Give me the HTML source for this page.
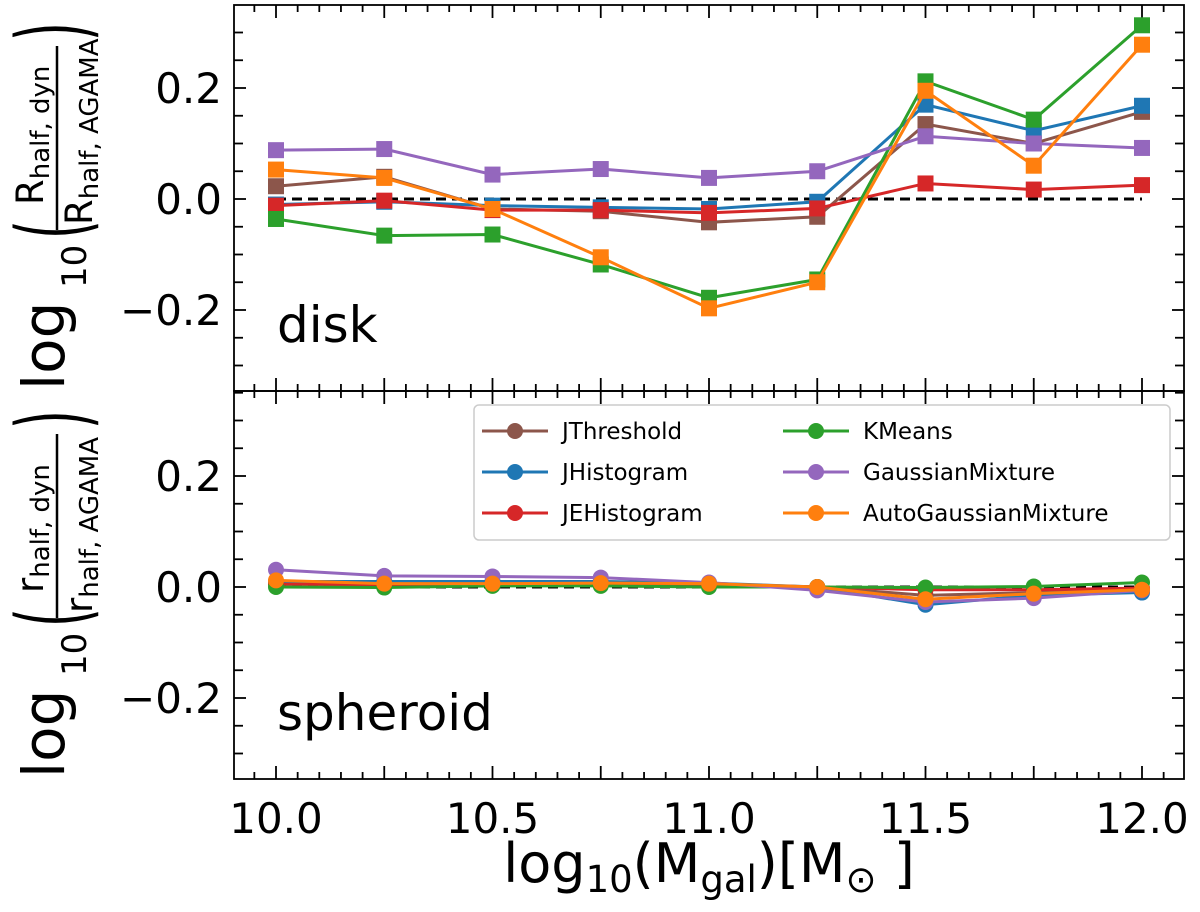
<!DOCTYPE html>
<html><head><meta charset="utf-8"><style>
html,body{margin:0;padding:0;background:#fff}
svg{display:block;font-family:"DejaVu Sans","Liberation Sans",sans-serif}
</style></head><body>
<svg id="chart" width="1200" height="912" xmlns="http://www.w3.org/2000/svg">
</svg>
<script>
const masses = [10.0,10.25,10.5,10.75,11.0,11.25,11.5,11.75,12.0];
const seriesNames = ["JThreshold","JHistogram","JEHistogram","KMeans","GaussianMixture","AutoGaussianMixture"];
const seriesColors = ["#8c564b","#1f77b4","#d62728","#2ca02c","#9467bd","#ff7f0e"];
const diskJThreshold = [0.023,0.04,-0.018,-0.022,-0.042,-0.032,0.135,0.1,0.157];
const diskJHistogram = [-0.01,-0.005,-0.012,-0.015,-0.018,-0.005,0.17,0.123,0.168];
const diskJEHistogram = [-0.012,-0.003,-0.02,-0.02,-0.025,-0.017,0.028,0.017,0.025];
const diskKMeans = [-0.036,-0.066,-0.064,-0.118,-0.178,-0.145,0.212,0.143,0.313];
const diskGaussianMixture = [0.088,0.09,0.044,0.054,0.038,0.05,0.113,0.1,0.092];
const diskAutoGaussianMixture = [0.053,0.038,-0.018,-0.105,-0.197,-0.15,0.195,0.06,0.278];
const sphJThreshold = [0.008,0.005,0.005,0.005,0.005,0.0,-0.015,-0.01,-0.005];
const sphJHistogram = [0.01,0.01,0.01,0.01,0.007,0.0,-0.032,-0.015,-0.01];
const sphJEHistogram = [0.005,0.004,0.004,0.005,0.005,0.0,-0.005,-0.005,-0.002];
const sphKMeans = [0.0,-0.001,0.002,0.002,0.0,0.0,-0.001,0.001,0.008];
const sphGaussianMixture = [0.031,0.02,0.019,0.017,0.008,-0.006,-0.027,-0.02,-0.006];
const sphAutoGaussianMixture = [0.012,0.006,0.006,0.007,0.006,0.0,-0.022,-0.012,-0.005];
const xTickLabels = ["10.0","10.5","11.0","11.5","12.0"];
const yTickLabels = ["0.2","0.0","\u22120.2"];

const NS="http://www.w3.org/2000/svg";
const svg=document.getElementById('chart');
function mk(tag,attrs,parent){const e=document.createElementNS(NS,tag);for(const k in attrs)e.setAttribute(k,attrs[k]);(parent||svg).appendChild(e);return e;}
const X0=234,X1=1184;
function xs(v){return 276+(v-10)*433;}
const panels=[{top:5,bot:391,zero:199,name:'disk-panel',label:'disk',data:[diskJThreshold,diskJHistogram,diskJEHistogram,diskKMeans,diskGaussianMixture,diskAutoGaussianMixture],marker:'square'},
{top:391,bot:779,zero:587,name:'spheroid-panel',label:'spheroid',data:[sphJThreshold,sphJHistogram,sphJEHistogram,sphKMeans,sphGaussianMixture,sphAutoGaussianMixture],marker:'circle'}];

panels.forEach((p,pi)=>{
  const ys=v=>p.zero-v*555;
  const g=mk('g',{});
  
  
  for(let k=-7;k<=7;k++){const v=k*0.05;const y=ys(v);if(y<p.top+1||y>p.bot-1)continue;
    const len=(k%4===0)?12:9;
    mk('line',{x1:X0,x2:X0+len,y1:y,y2:y,stroke:'#000','stroke-width':1.8},g);
    mk('line',{x1:X1,x2:X1-len,y1:y,y2:y,stroke:'#000','stroke-width':1.8},g);}
  [0.2,0,-0.2].forEach((v,i)=>{const t=mk('text',{x:222,y:ys(v)+15,'text-anchor':'end','font-size':42},g);t.textContent=yTickLabels[i];
    
    });
  for(let k=-6;k<=44;k++){const v=10+k*0.05;const x=xs(v);if(x<X0+1||x>X1-1)continue;
    const len=(k%5===0)?13:7;
    mk('line',{x1:x,x2:x,y1:p.bot,y2:p.bot-len,stroke:'#000','stroke-width':1.8},g);
    mk('line',{x1:x,x2:x,y1:p.top,y2:p.top+len,stroke:'#000','stroke-width':1.8},g);}
  const z=mk('line',{x1:xs(10),x2:xs(12),y1:ys(0),y2:ys(0),stroke:'#000','stroke-width':3,'stroke-dasharray':'10,6'},g);
  
  
  p.data.forEach((arr,si)=>{
    const sg=mk('g',{},g);
    
    
    const pts=arr.map((v,i)=>xs(masses[i])+','+ys(v)).join(' ');
    mk('polyline',{points:pts,fill:'none',stroke:seriesColors[si],'stroke-width':3},sg);
    arr.forEach((v,i)=>{let m;
      if(p.marker==='square')m=mk('rect',{x:xs(masses[i])-8,y:ys(v)-8,width:16,height:16,fill:seriesColors[si]},sg);
      else m=mk('circle',{cx:xs(masses[i]),cy:ys(v),r:8,fill:seriesColors[si]},sg);
      
      });
  });
  const lab=mk('text',{x:277,y:p.zero+143,'font-size':50},g);lab.textContent=p.label;
  
  
  mk('rect',{x:X0,y:p.top,width:X1-X0,height:p.bot-p.top,fill:'none',stroke:'#000','stroke-width':1.8},g);
  const yl=mk('g',{transform:'translate(0,'+(391+(pi?388:0))+') rotate(-90)'});
  
  
  const sym=pi?'r':'R';
  let t=mk('text',{x:1,y:64,'font-size':58},yl);t.textContent='log';
  t=mk('text',{x:103,y:86,'font-size':34},yl);t.textContent='10';
  t=mk('text',{x:0,y:0,'font-size':48,transform:'translate(152,86) scale(1,2.0)'},yl);t.textContent='(';
  t=mk('text',{x:186,y:43,'font-size':37},yl);t.innerHTML=sym+'<tspan font-size="26" dy="6">half, dyn</tspan>';
  mk('line',{x1:161,x2:345,y1:57,y2:57,stroke:'#000','stroke-width':2.5},yl);
  t=mk('text',{x:166,y:92,'font-size':37},yl);t.innerHTML=sym+'<tspan font-size="26" dy="6">half, AGAMA</tspan>';
  t=mk('text',{x:0,y:0,'font-size':48,transform:'translate(350,86) scale(1,2.0)'},yl);t.textContent=')';
});
xTickLabels.forEach(l=>{const t=mk('text',{x:xs(parseFloat(l)),y:833,'text-anchor':'middle','font-size':42});t.textContent=l;
  
  });
const xt=mk('text',{x:709,y:882,'text-anchor':'middle','font-size':54});
xt.innerHTML='log<tspan font-size="37" dy="10">10</tspan><tspan dy="-10">(M</tspan><tspan font-size="37" dy="10">gal</tspan><tspan dy="-10">)[M</tspan><tspan font-size="37" dy="10">\u2299</tspan><tspan dy="-10"> ]</tspan>';


const lg=mk('g',{});


mk('rect',{x:474,y:405,width:696,height:135,rx:5,fill:'#fff',stroke:'#ccc','stroke-width':1.5},lg);
seriesNames.forEach((n,i)=>{const col=i<3?0:1,row=i%3;const lx=col?783:482,ly=431+row*41;
  const e=mk('g',{},lg);
  
  
  mk('line',{x1:lx,x2:lx+66,y1:ly,y2:ly,stroke:seriesColors[i],'stroke-width':3},e);
  mk('circle',{cx:lx+33,cy:ly,r:8,fill:seriesColors[i]},e);
  const t=mk('text',{x:lx+80,y:ly+8,'font-size':23},e);t.textContent=n;});
</script>
</body></html>
